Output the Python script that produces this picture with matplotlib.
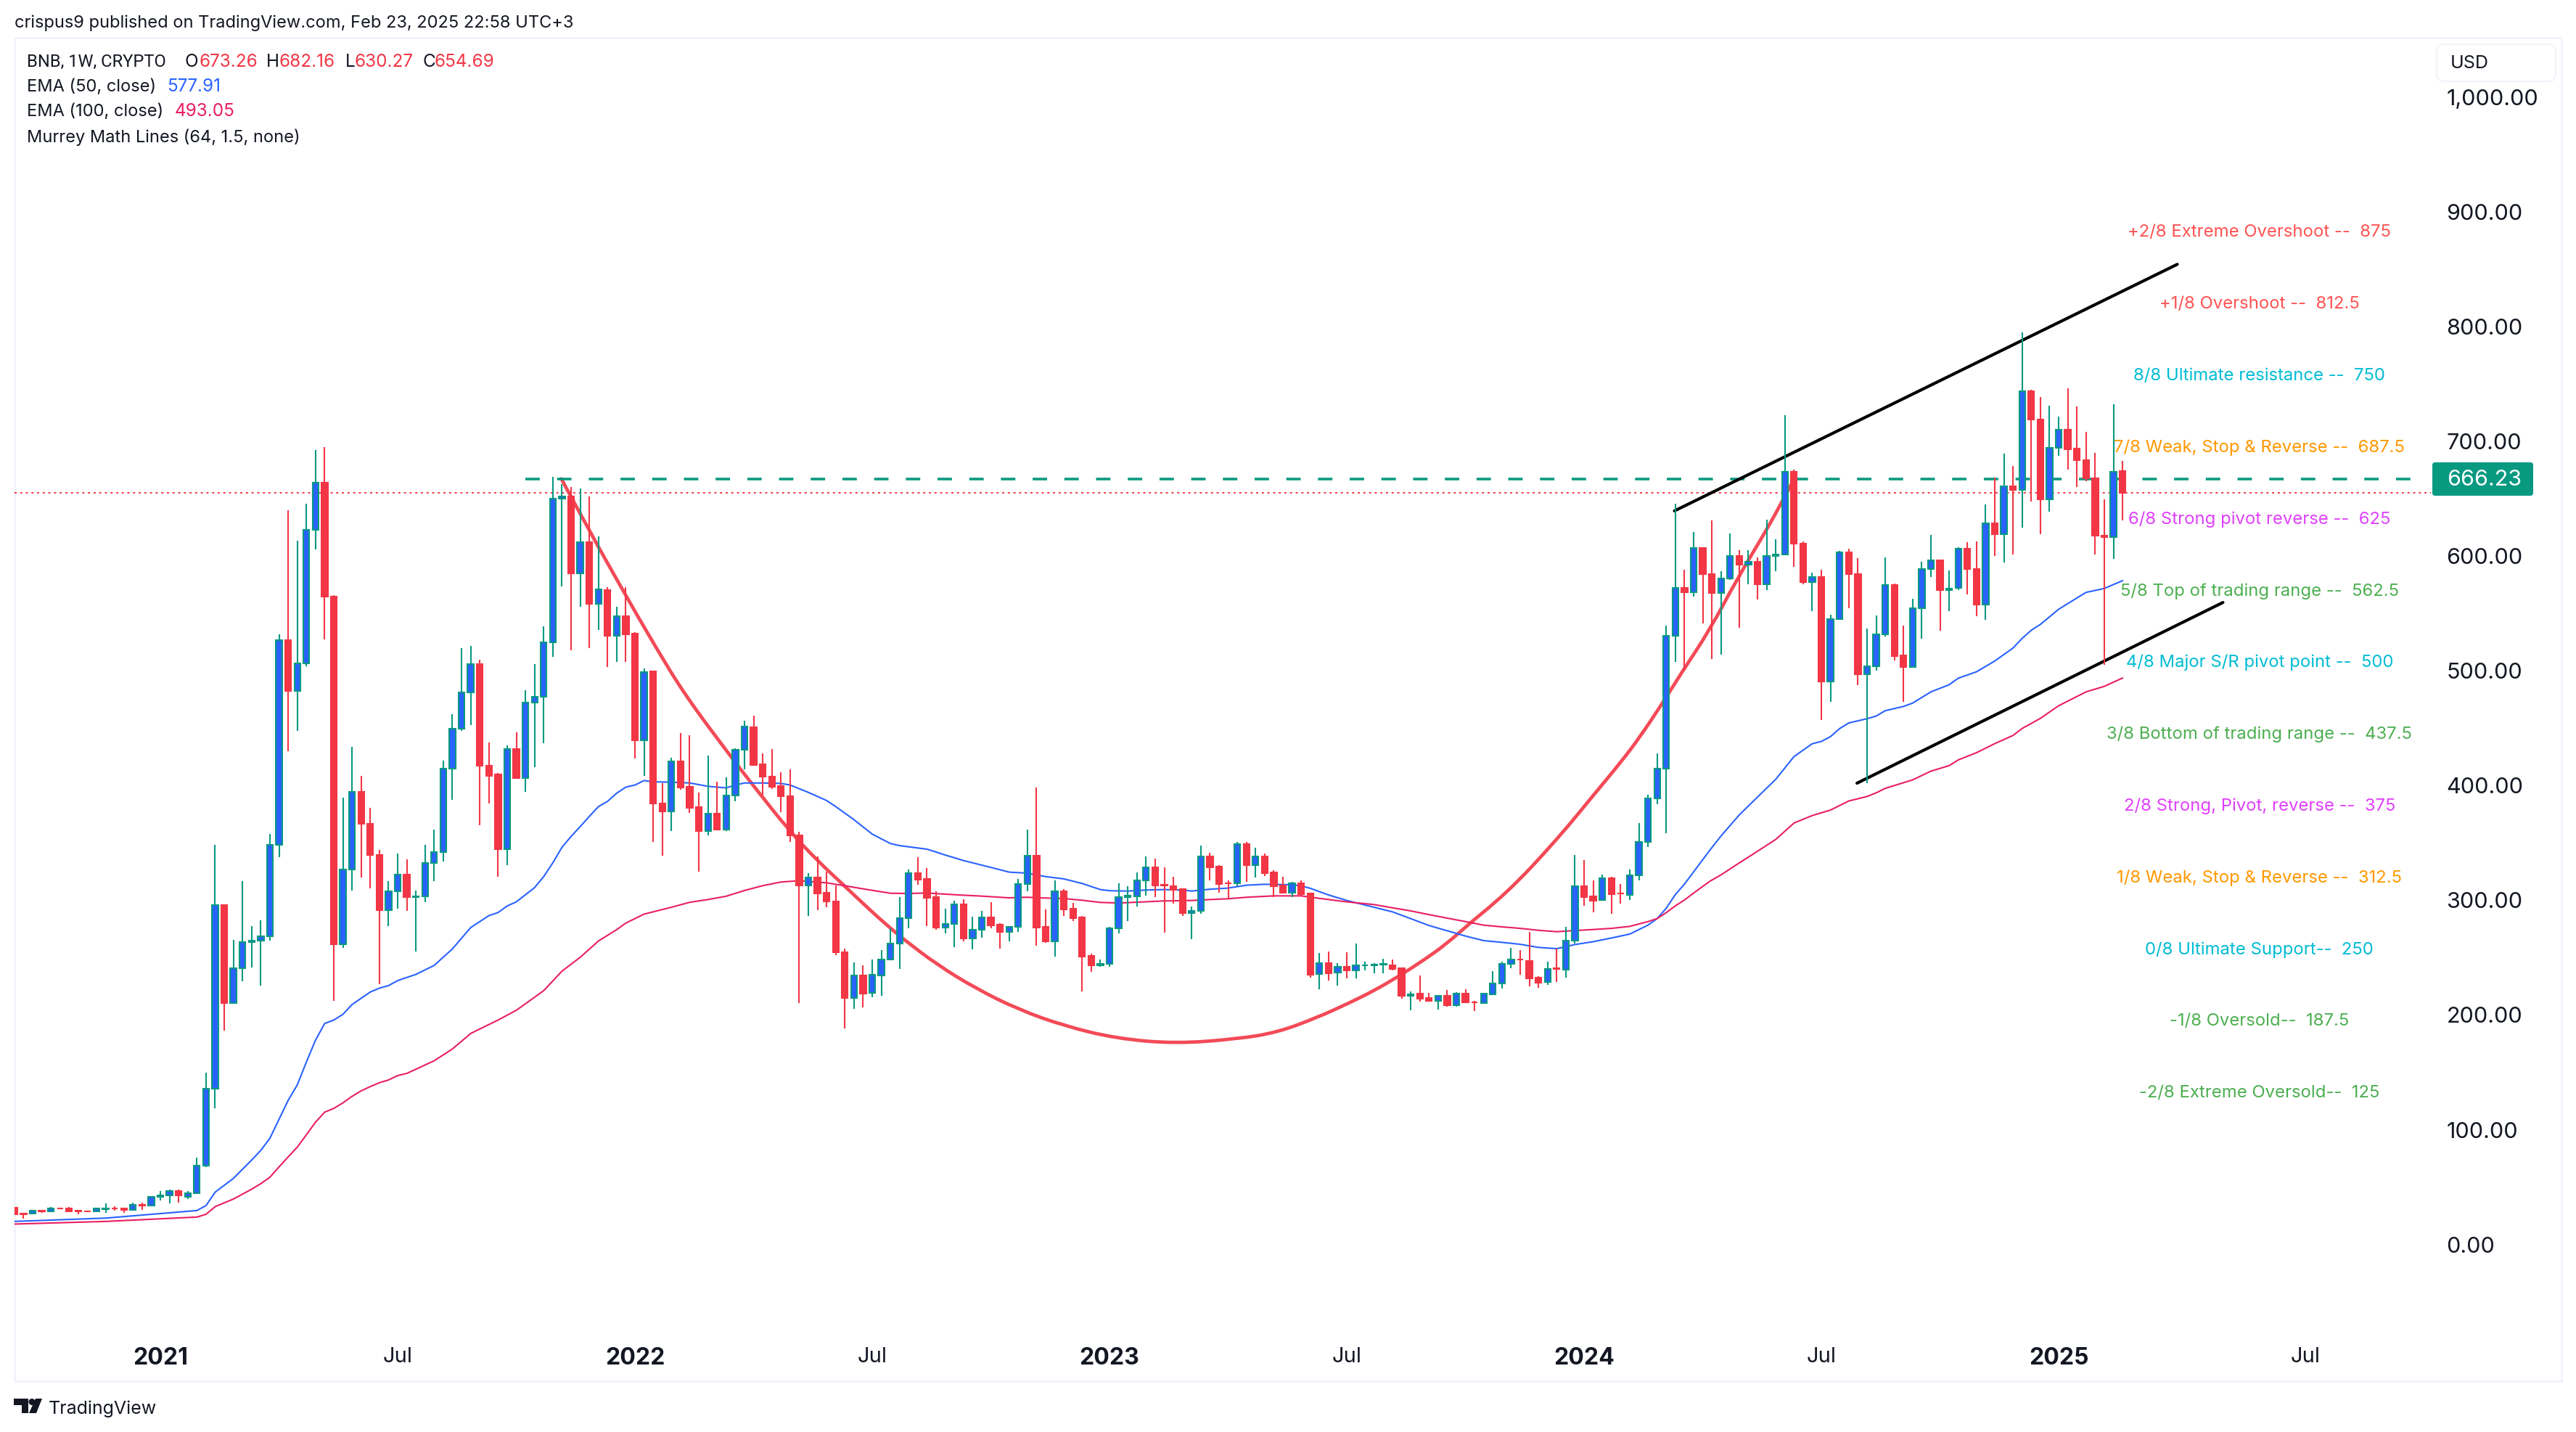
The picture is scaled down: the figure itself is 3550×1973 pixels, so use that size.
import matplotlib
matplotlib.use('Agg')
import matplotlib.pyplot as plt
from matplotlib.patches import Rectangle, FancyBboxPatch, Polygon, Circle, PathPatch
from matplotlib.path import Path

plt.rcParams['font.family'] = ['Inter', 'DejaVu Sans']

W = 3550
H = 1974

# weekly candles
opens = [31.5, 26.5, 26.2, 29, 28.5, 31, 30.5, 28.7, 28.5, 28,
         30, 31, 30.5, 29.5, 34.2, 33.5, 41, 42, 46, 41,
         44, 68, 135, 295, 210, 240, 263, 264, 268, 348,
         526, 482, 506, 622, 663, 564, 261, 326, 394, 366,
         339, 291, 307, 322, 302, 303, 332, 341.6, 414.4, 449,
         480.4, 505, 416.5, 409, 344, 431, 406, 471.5, 477, 524,
         649.7, 651, 584, 611.7, 558, 570, 530, 547, 532, 438.5,
         499, 384, 377, 420.4, 398, 380.6, 360, 375, 361, 390.6,
         430.7, 450, 418, 407, 399, 390, 356, 312, 319, 306,
         298.6, 254.3, 214.5, 233.7, 218.5, 234, 247.6, 261.5, 283.8, 322.8,
         317.7, 302, 275.8, 279, 295.6, 266.3, 274, 284.2, 278, 272,
         276, 313.3, 338, 276, 263.8, 307, 291.8, 284.2, 250.7, 243,
         244, 274.7, 302, 303, 317, 328, 313, 311.4, 309, 288.3,
         290, 337.4, 328.7, 314.4, 314, 348.3, 330, 337.4, 323.5, 312.3,
         306.2, 314, 305, 235.3, 244.4, 236.2, 241.2, 238.5, 242.6, 243,
         243.2, 243, 240, 216.3, 217.8, 214, 212, 215.9, 208, 217.8,
         210.5, 209.6, 217.6, 226.6, 243.7, 247.9, 246.2, 231.7, 227.9, 240,
         238.7, 264.4, 311.4, 302.5, 299.4, 318.4, 305.3, 304.2, 320.9, 350,
         388.4, 414.4, 529.6, 571.4, 567.7, 606.7, 583.8, 566.9, 579.6, 599.6,
         592, 594.6, 574.5, 599.6, 601, 673, 610.4, 576.8, 581.3, 490.3,
         544.6, 602.5, 583.8, 496.6, 503.6, 531.3, 574, 512.6, 502.8, 553.6,
         588.3, 595.4, 570, 571.4, 605.6, 588.3, 557.3, 627.6, 618.5, 660.3,
         656.7, 743, 718.5, 649, 693.4, 709.2, 693, 682.7, 667.4, 617.4,
         616, 673.26]
highs = [31.6, 26.7, 29.5, 29.2, 32, 31.5, 32, 29.5, 29, 31,
         35, 33, 30.8, 36, 36, 41.5, 46, 47, 47, 46,
         75, 149, 348, 296, 265, 316, 277, 282, 357, 531,
         639, 613, 645, 692, 694, 565, 389, 433, 408, 380,
         343, 316, 340, 335, 308, 348, 361, 421, 461.5, 519,
         521, 509, 437, 410, 434.6, 446, 482.5, 505, 538, 668.5,
         662, 659.6, 658, 651, 616.7, 572, 555, 572, 533, 501.7,
         499, 401.6, 423.6, 445, 443, 393, 425.4, 402.6, 406.6, 431.7,
         456, 460, 427.5, 431, 410.8, 413.6, 359, 323, 337.7, 324,
         312, 257, 245.4, 242.6, 247.6, 256, 275, 302, 326, 337,
         327.5, 307, 292, 298.8, 300.3, 285, 290, 298, 279.6, 276.6,
         317.8, 361, 397.7, 291.4, 317, 309, 297, 285.5, 252.8, 247.6,
         276, 314, 311.6, 323.5, 337.6, 335.7, 328, 319.7, 309.5, 294,
         347, 340.7, 330, 316.7, 350.4, 350.4, 345, 340, 325.6, 319.7,
         315.4, 317, 305, 253.5, 254.5, 244.4, 253.9, 261.7, 246, 244.4,
         248.6, 247.5, 241, 220, 233.8, 218.4, 216.7, 221, 219, 221.8,
         212, 218.4, 237.6, 245.8, 257.6, 255.9, 271.8, 233.2, 245.8, 257.2,
         276.2, 338.6, 334.4, 316.7, 321.7, 319.8, 313.5, 326.2, 366.6, 391.3,
         427.4, 538.4, 644.8, 587.5, 620.3, 607.3, 630.4, 586, 618.8, 604.4,
         604.4, 598.2, 631.3, 613.8, 722, 674.5, 612.3, 585, 587.5, 548,
         603.9, 605.8, 597.4, 536.1, 547.4, 598.2, 575.6, 538.9, 562, 594.6,
         618, 596, 586.6, 607, 611.5, 611.8, 644.3, 668, 688.6, 677.9,
         794, 744, 738, 730.4, 721, 745.6, 730, 707.8, 689.4, 648.5,
         731.8, 682.16]
lows = [25.5, 22, 26, 27, 28, 30, 28, 26, 27.5, 27.7,
        27, 29, 27, 29, 29.5, 33, 37.7, 35, 36, 39,
        44, 67, 118, 186, 210, 229, 241, 225, 264, 337,
        429, 447, 503, 605, 527, 212, 258, 308, 319, 310,
        226, 277, 292, 290, 255, 298, 316, 333, 387, 447,
        452, 365, 384, 320, 330, 405, 394, 415.4, 436, 511.6,
        572.7, 517, 555, 519, 534.6, 502.4, 507, 507, 423, 407.6,
        350, 338, 360, 395.5, 375.7, 324, 356, 361, 360, 385.6,
        413.7, 417, 391, 396.6, 376, 350, 209.5, 286, 291, 293,
        251.5, 187.5, 205, 206, 215, 216, 247.6, 239.5, 275, 313,
        277, 274, 270.7, 258.7, 263.8, 256.8, 266.7, 275, 257.5, 263.8,
        271.8, 307.4, 260, 262, 250, 286, 281.3, 220, 237, 241.7,
        241.2, 270.7, 281.3, 294, 303.4, 302.4, 271, 296.5, 286, 265.5,
        287.6, 317, 306, 300.7, 311.9, 315.4, 319.2, 320.7, 302.4, 306.2,
        302.4, 303.4, 232.2, 221.6, 229.6, 224.8, 231.5, 231.5, 238, 236,
        236, 238.4, 213.8, 203.7, 211.2, 211.2, 204.3, 206.8, 206.8, 209.6,
        202.6, 209, 217, 222.6, 240, 234.4, 224.3, 223.3, 225.8, 228.1,
        232.1, 261.9, 294.5, 288.8, 299.2, 287.6, 296.4, 299.8, 316.4, 345.6,
        382.8, 358, 507.3, 499.4, 564.3, 540.3, 509.3, 513.5, 578.7, 537,
        574.8, 561.5, 569.4, 586, 601, 589.8, 575, 551.6, 456.2, 472,
        544.6, 553.9, 486.7, 401.4, 499.4, 529, 508.4, 472, 502.2, 527.6,
        581.3, 534.1, 551.6, 570, 565.8, 546.8, 544, 599.4, 593.7, 600.8,
        624, 646.8, 618.3, 638.3, 686.6, 675, 659.8, 664.6, 601, 504.5,
        596.8, 630.27]
closes = [25.7, 26, 29, 28.5, 31, 30.5, 28.5, 28, 28, 30.5,
          31, 30.5, 29.5, 34, 33.5, 41, 42, 46, 42, 44,
          68, 135, 295, 210, 240, 263, 264, 268, 348, 526,
          482, 506, 622, 663, 564, 261, 326, 394, 366, 339,
          291, 307, 322, 302, 303, 332, 341.6, 414.4, 449, 480.4,
          505, 416.5, 408, 344, 431, 406, 471.5, 477, 524, 649.7,
          651, 584, 611.7, 558, 570.5, 530, 546.8, 531, 438.5, 498.5,
          384, 377, 420.4, 397.7, 380, 360, 375, 361, 390.6, 430.7,
          450.6, 417.5, 407, 398.4, 390, 356, 312, 319, 305.4, 298.6,
          254.3, 214.5, 233.7, 218, 234.3, 247.6, 261.5, 283.8, 322.8, 317.5,
          301.7, 275.6, 279, 295.6, 266.3, 274, 284.2, 277.7, 272, 276,
          313.3, 338, 275.8, 263.8, 307, 291.6, 284, 250.5, 243, 244,
          274.7, 302, 303.4, 317, 328, 312.3, 312.5, 308.3, 288.3, 290,
          337.4, 328.3, 313.8, 314, 348.3, 330, 337.4, 323.3, 311.9, 306.2,
          314, 304.5, 234.7, 244.4, 236, 241.2, 238.5, 242.5, 243, 243.2,
          243.8, 239.5, 216.3, 217.4, 213.8, 211.9, 215.9, 207.9, 217.8, 210.6,
          210.2, 217.8, 226.6, 243.7, 247.5, 247.5, 231.5, 227.7, 239.7, 239.5,
          264.4, 311.4, 302.3, 299.2, 318.4, 304.9, 305, 320.9, 350, 388.4,
          414.4, 529.6, 571.4, 567.7, 606.7, 583.8, 566.9, 579.6, 599.6, 592,
          594.3, 574.5, 599.6, 601, 673, 610.4, 576.5, 581.3, 490.3, 544.6,
          602.5, 583.8, 496.6, 503.6, 531.3, 574, 512, 502.8, 553.6, 588.3,
          595.4, 570, 571, 605.6, 588, 557, 627.6, 618.5, 660.3, 656.7,
          743, 718.5, 649, 693.4, 709.2, 692.5, 682.7, 667.4, 617.4, 616,
          673.1, 654.69]

ema50_i = [0, 10, 20, 21, 22, 24, 26, 27, 28, 29, 30, 31, 32, 33, 34, 35, 36, 37, 38, 39,
           40, 41, 42, 44, 46, 48, 50, 52, 53, 54, 55, 57, 58, 59, 60, 61, 62, 63, 64, 65,
           66, 67, 68, 69, 70, 72, 74, 76, 78, 79, 80, 82, 84, 85, 87, 89, 90, 92, 94, 96,
           97, 100, 101, 102, 104, 106, 108, 109, 111, 113, 115, 117, 119, 120, 122, 124,
           126, 128, 129, 131, 133, 135, 137, 140, 141, 142, 144, 146, 149, 151, 153, 155,
           157, 159, 161, 163, 165, 167, 169, 171, 173, 175, 177, 179, 180, 181, 182, 183,
           185.75, 187, 189, 191, 193, 194, 195, 197, 198, 199, 200, 201, 203, 204, 205,
           207, 208, 210, 212, 213, 215, 217, 219, 220, 221, 222, 224, 227, 229, 231]
ema50 = [19.5, 22.4, 29, 33.3, 45, 57, 73, 81.4, 92, 108.5, 125, 138.5, 158.5, 177.5, 192, 195, 200, 208.5, 214, 219.4,
         222.8, 225, 229.4, 234.8, 242.6, 257, 275.6, 286, 288.7, 294.4, 298, 310.4, 320, 332, 345.5, 355, 363.6, 372.5, 381, 385.6,
         392.7, 398, 399.8, 403.7, 402.6, 402.3, 401.6, 398.7, 397.3, 399.8, 401.6, 401.6, 401.2, 399.8, 393.4, 386.3, 381, 369.6, 357, 348.8,
         347, 343.9, 341.4, 338.8, 334, 330, 326, 323.9, 323, 320, 318, 314, 308.7, 307.7, 307.4, 308.3,
         308.7, 308.3, 307.4, 309, 310, 312.5, 313.3, 312.9, 311.9, 309.8, 304, 299.2, 293.3, 289.3, 283.4, 277.4,
         272.8, 268.2, 264.2, 262.7, 261, 258.3, 257.2, 260.8, 263.3, 266.5, 269.9, 277.7, 283.4, 292.4, 304.4, 313.5,
         342.7, 355.4, 373.7, 389.3, 404.8, 414.7, 424.6, 435.8, 437.8, 442, 449, 453.9, 457.6, 459.9, 464.6,
         468.3, 471.2, 481, 487.2, 492.9, 498.5, 507.9, 519.2, 527.6, 534.7, 539.8, 553, 567.7, 571.1, 577.91]

ema100_i = [0, 10, 20, 21, 22, 24, 26, 27, 28, 29, 30, 31, 32, 33, 34, 35, 36, 37, 38, 39,
            40, 41, 42, 43, 46, 48, 50, 53, 55, 58, 60, 62, 64, 66, 67, 69, 72, 74, 76, 78,
            80, 82, 84, 86, 89, 91, 94, 96, 98, 100, 102, 104, 106, 109, 111, 113, 115, 117,
            119, 121, 123, 126, 129, 131, 133, 135, 138, 141, 143, 146, 149, 151, 153, 155,
            157, 159, 161, 163, 165, 167, 169, 171, 173, 175, 177, 179, 180, 181, 182, 183,
            184.15, 185.75, 187, 189, 191, 193, 195, 197, 199, 201, 203, 204, 205, 208, 210,
            212, 213, 215, 217, 219, 220, 222, 224, 227, 229, 231]
ema100 = [17.2, 19.5, 23.3, 25.7, 32.4, 39, 47.6, 52.4, 58, 67, 75.7, 84.3, 95, 106, 114.7, 118, 122.8, 128.5, 133.3, 137,
          140.4, 142.8, 146.6, 148.5, 159.5, 169.8, 183.3, 195, 203.5, 220.6, 237.6, 249.7, 263.9, 273.8, 279.5, 287.3, 293.3, 297.6, 300, 302.9,
          307.9, 312.1, 315.3, 316.4, 314.6, 312, 308, 305.5, 305.3, 305.7, 304.7, 303.8, 303, 301.5, 302, 301.3, 300.9, 299.4,
          297.5, 297, 297.7, 298.8, 299.2, 300, 300.7, 302, 303.2, 303.2, 301, 298, 295.6, 292.8, 290.1, 286.9,
          283.8, 280.8, 277.7, 276.2, 274.9, 273.2, 272, 273, 273.9, 274.9, 276.6, 280.8, 283.4, 288.6, 294.5, 299.6,
          306.5, 315.8, 321.5, 331.9, 342.1, 352.4, 366.7, 373.2, 378, 385.9, 389.8, 393, 396.9, 404.3, 411.9,
          416.7, 421.7, 428, 435.9, 443, 449.1, 457.9, 468.9, 481, 485.8, 493.05]

# hand drawn cup
cup_i = [59.93, 63.1, 67, 70.1, 73.5, 78.6, 80.85, 85, 88.2, 90.6, 93.8, 96, 97.6, 101.1, 105.4, 110, 115,
         120.7, 127.2, 134.1, 138.4, 142.7, 146.3, 149, 151.6, 154.3, 156.9, 159.6, 162.2, 164.9, 167.5,
         170.2, 172.8, 176.1, 178.1, 180.6, 182.7, 185.75, 188.8, 192, 193.6, 194.7]
cup_p = [666.7, 619.9, 564.9, 522.3, 477.9, 423.6, 400.5, 359, 332.3, 314.6, 290.5, 275, 264.4, 243.3, 222.3, 204.3, 190,
         179, 174.4, 178.6, 184.3, 197, 210, 220.7, 232.7, 246.5, 261.2, 280.2, 297, 317.1, 339.2,
         363.5, 388.8, 420.4, 441.5, 471.2, 498, 534.7, 579.9, 622.2, 645.4, 661.8]

# channel
upper_i = [181.9, 237.0]
upper_p = [638.7, 853.6]
lower_i = [201.9, 242.0]
lower_p = [401.4, 558.9]

neck_i = [56, 264]
neck_p = [666.23, 666.23]
last_close = 654.69

murrey_levels = [875, 812.5, 750, 687.5, 625, 562.5, 500, 437.5, 375, 312.5, 250, 187.5, 125]
murrey_labels = ['+2/8 Extreme Overshoot --  875', '+1/8 Overshoot --  812.5', '8/8 Ultimate resistance --  750',
                 '7/8 Weak, Stop & Reverse --  687.5', '6/8 Strong pivot reverse --  625',
                 '5/8 Top of trading range --  562.5', '4/8 Major S/R pivot point --  500',
                 '3/8 Bottom of trading range --  437.5', '2/8 Strong, Pivot, reverse --  375',
                 '1/8 Weak, Stop & Reverse --  312.5', '0/8 Ultimate Support--  250',
                 '-1/8 Oversold--  187.5', '-2/8 Extreme Oversold--  125']
murrey_colors = ['#ff5252', '#ff5252', '#00bcd4', '#ff9800', '#e040fb', '#4caf50', '#00bcd4',
                 '#4caf50', '#e040fb', '#ff9800', '#00bcd4', '#4caf50', '#4caf50']

price_ticks = [0, 100, 200, 300, 400, 500, 600, 700, 800, 900, 1000]
time_ticks = [16, 42, 68, 94, 120, 146, 172, 198, 224, 251]
time_labels = ['2021', 'Jul', '2022', 'Jul', '2023', 'Jul', '2024', 'Jul', '2025', 'Jul']

UP_BODY = '#2962ff'
UP_LINE = '#089981'
DOWN = '#f23645'
INK = '#131722'

fig = plt.figure(figsize=(W / 100, H / 100), dpi=100, facecolor='white')

# overlay in pixel coordinates for the page furniture
page = fig.add_axes([0, 0, 1, 1], zorder=0)
page.set_xlim(0, W)
page.set_ylim(H, 0)
page.axis('off')
page.add_patch(Rectangle((20, 53), 3510, 1851, fc='white', ec='#f0f3fa', lw=2))

ax = fig.add_axes([20 / W, 1 - 1835 / H, 3330 / W, 1782 / H], zorder=1)
ax.patch.set_alpha(0)
ax.set_xlim((20 - 19.8) / 12.577, (3350 - 19.8) / 12.577)
ax.set_ylim((1714.7 - 1835) / 1.581, (1714.7 - 53) / 1.581)
for s in ax.spines.values():
    s.set_visible(False)

# cup as a quadratic spline through the read points
pts = list(zip(cup_i, cup_p))
verts = [pts[0]]
codes = [Path.MOVETO]
for a, b in zip(pts[1:-1], pts[2:]):
    verts += [a, ((a[0] + b[0]) / 2, (a[1] + b[1]) / 2)]
    codes += [Path.CURVE3, Path.CURVE3]
verts.append(pts[-1])
codes.append(Path.LINETO)
ax.add_patch(PathPatch(Path(verts, codes), fc='none', ec=DOWN, lw=3.4, alpha=0.9, zorder=2, capstyle='round'))

ax.plot(neck_i, neck_p, color=UP_LINE, lw=2.6, ls=(0, (5.5, 6.6)), zorder=2)
ax.axhline(last_close, color=DOWN, lw=1.4, ls=(0, (1.5, 2.5)), zorder=2)
ax.plot(ema50_i, ema50, color=UP_BODY, lw=1.5, zorder=3)
ax.plot(ema100_i, ema100, color='#e91e63', lw=1.5, zorder=3)
ax.plot(upper_i, upper_p, color='black', lw=3, zorder=3, solid_capstyle='round')
ax.plot(lower_i, lower_p, color='black', lw=3, zorder=3, solid_capstyle='round')

# candles
idx = list(range(len(closes)))
up = [c >= o for o, c in zip(opens, closes)]
wick_colors = [UP_LINE if u else DOWN for u in up]
ax.vlines(idx, lows, highs, colors=wick_colors, lw=1.5, zorder=4)
ax.bar(idx, [abs(c - o) for o, c in zip(opens, closes)], bottom=[min(o, c) for o, c in zip(opens, closes)],
       width=0.66, color=[UP_BODY if u else DOWN for u in up], edgecolor=wick_colors, linewidth=1.5, zorder=5)

for level, label, col in zip(murrey_levels, murrey_labels, murrey_colors):
    ax.annotate(label, (246, level), xytext=(0, 7.9), textcoords='offset points', color=col,
                fontsize=17.2, ha='center', va='center', zorder=6)

ax.yaxis.tick_right()
ax.set_yticks(price_ticks)
ax.set_yticklabels([f'{v:,.2f}' for v in price_ticks])
ax.tick_params(axis='y', length=0, pad=15.5, labelsize=22, labelcolor=INK)
ax.set_xticks(time_ticks)
ax.set_xticklabels(time_labels)
ax.tick_params(axis='x', length=0, pad=15, labelsize=21, labelcolor=INK)
for tl in ax.get_xticklabels():
    if tl.get_text() != 'Jul':
        tl.set_fontweight('bold')
        tl.set_fontsize(23)

# price tag
page2 = fig.add_axes([0, 0, 1, 1], zorder=2)
page2.set_xlim(0, W)
page2.set_ylim(H, 0)
page2.axis('off')
page2.add_patch(FancyBboxPatch((3354, 640), 135, 42, boxstyle='round,pad=2,rounding_size=4', fc=UP_LINE, ec='none'))
page2.text(3372, 661, '666.23', color='white', fontsize=22, va='center', ha='left')

page2.add_patch(FancyBboxPatch((3360, 64), 160, 47, boxstyle='round,pad=2,rounding_size=10',
                               fc='white', ec='#f0f3fa', lw=1.5))
page2.text(3377, 88, 'USD', color=INK, fontsize=18, va='center', ha='left')

# header and legend
page2.text(20, 32, 'crispus9 published on TradingView.com, Feb 23, 2025 22:58 UTC+3', color=INK, fontsize=17, va='center')
legend_y = [85, 120, 154, 189]
page2.text(37, legend_y[0], 'BNB, 1W, CRYPTO', color=INK, fontsize=17, va='center', family=['Roboto', 'DejaVu Sans'])
for x0, txt, col in [(255, 'O', INK), (274, '673.26', DOWN), (367, 'H', INK), (385, '682.16', DOWN),
                     (476, 'L', INK), (489, '630.27', DOWN), (583, 'C', INK), (599, '654.69', DOWN)]:
    page2.text(x0, legend_y[0], txt, color=col, fontsize=17.5, va='center')
page2.text(37, legend_y[1], 'EMA (50, close)', color=INK, fontsize=17, va='center')
page2.text(230, legend_y[1], '577.91', color=UP_BODY, fontsize=17.5, va='center')
page2.text(37, legend_y[2], 'EMA (100, close)', color=INK, fontsize=17, va='center')
page2.text(241, legend_y[2], '493.05', color='#e91e63', fontsize=17.5, va='center')
page2.text(37, legend_y[3], 'Murrey Math Lines (64, 1.5, none)', color=INK, fontsize=17, va='center')

# TradingView logo
page2.add_patch(Polygon([(19, 1928), (39, 1928), (39, 1948), (30, 1948), (30, 1937), (19, 1937)], fc=INK, ec='none'))
page2.add_patch(Circle((44, 1932.5), 4.5, fc=INK, ec='none'))
page2.add_patch(Polygon([(49, 1928), (58, 1928), (50, 1948), (40, 1948)], fc=INK, ec='none'))
page2.text(67, 1941, 'TradingView', color=INK, fontsize=18, va='center')

fig.savefig('out.png', dpi=100)
